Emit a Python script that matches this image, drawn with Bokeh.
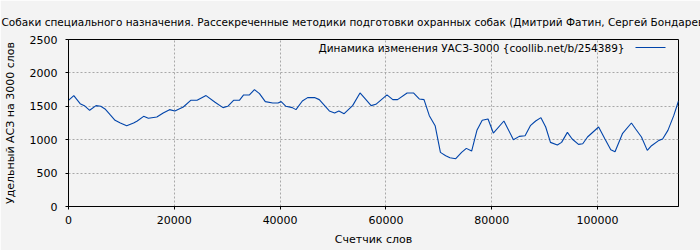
from bokeh.plotting import figure
from bokeh.models import Range1d, Label, BoxAnnotation, FixedTicker, Title
from bokeh.embed import file_html
from bokeh.resources import INLINE

title_text = "Собаки специального назначения. Рассекреченные методики подготовки охранных собак (Дмитрий Фатин, Сергей Бондарев)"
series_name = "Динамика изменения УАСЗ-3000 {coollib.net/b/254389}"
x_label = "Счетчик слов"
y_label = "Удельный АСЗ на 3000 слов"

words = [0, 1000, 2200, 3000, 4000, 5200, 6100, 6900, 7900, 8800, 9800, 11000, 12300, 13000,
         14200, 15100, 16700, 17900, 19100, 20100, 21700, 23100, 24300, 26000, 27700, 29200,
         30100, 31200, 32300, 33100, 34200, 35150, 36100, 37200, 38600, 39600, 40200, 41100,
         42300, 43000, 44200, 45200, 46500, 47400, 49300, 50300, 51100, 52100, 53700, 55100,
         56100, 57200, 58100, 60200, 61300, 62200, 64000, 65200, 66300, 67200, 68200, 69300,
         70300, 71300, 72100, 73200, 74300, 75200, 76200, 77200, 78200, 79300, 80300, 82300,
         84100, 85200, 86300, 87300, 88300, 89300, 90200, 91100, 92400, 93200, 94300, 95200,
         96400, 97200, 98100, 100200, 101400, 102500, 103300, 104700, 106400, 107200, 108300,
         109400, 110200, 111600, 112300, 113300, 114400, 115300]
uasz = [1590, 1660, 1540, 1510, 1440, 1510, 1500, 1460, 1370, 1290, 1250, 1210, 1250, 1280,
        1350, 1320, 1340, 1400, 1450, 1430, 1490, 1590, 1590, 1660, 1560, 1480,
        1500, 1590, 1590, 1670, 1670, 1750, 1690, 1570, 1550, 1550, 1570, 1500,
        1480, 1450, 1580, 1630, 1630, 1600, 1430, 1400, 1430, 1390, 1510, 1700,
        1610, 1510, 1530, 1670, 1600, 1600, 1700, 1700, 1610, 1600, 1360, 1210,
        810, 760, 730, 715, 810, 870, 830, 1140, 1290, 1310, 1100, 1280,
        1000, 1050, 1060, 1210, 1280, 1330, 1190, 960, 920, 960, 1110, 1010,
        930, 940, 1040, 1190, 1010, 850, 820, 1090, 1250, 1160, 1040,
        840, 910, 990, 1010, 1140, 1360, 1580]

x_ticks = [0, 20000, 40000, 60000, 80000, 100000]
y_ticks = [0, 500, 1000, 1500, 2000, 2500]

FONT = "DejaVu Sans"
BG = "#f3f3f3"
LINE = "#0044aa"

p = figure(width=700, height=250, output_backend="svg", toolbar_location=None,
           x_range=Range1d(0, 115300), y_range=Range1d(0, 2500),
           min_border_left=67, min_border_right=22, min_border_top=39, min_border_bottom=44,
           background_fill_color=BG, border_fill_color=BG)

p.title = Title(text=title_text, align="left", offset=-67, standoff=23,
                text_font=FONT, text_font_size="10.5px", text_font_style="normal",
                text_color="black")

p.line(words, uasz, line_color=LINE, line_width=1.1)

p.outline_line_color = "black"
p.outline_line_width = 1
p.outline_line_alpha = 1

for ax in (p.xaxis[0], p.yaxis[0]):
    ax.axis_line_color = "black"
    ax.major_tick_line_color = "black"
    ax.major_tick_out = 3
    ax.major_tick_in = 0
    ax.minor_tick_line_color = None
    ax.major_label_text_font = FONT
    ax.major_label_text_font_size = "11px"
    ax.major_label_text_color = "black"
    ax.axis_label_text_font = FONT
    ax.axis_label_text_font_size = "11px"
    ax.axis_label_text_font_style = "normal"
    ax.axis_label_text_color = "black"

p.xaxis.ticker = FixedTicker(ticks=x_ticks)
p.yaxis.ticker = FixedTicker(ticks=y_ticks)
p.xaxis.formatter.use_scientific = False
p.xaxis.axis_label = x_label
p.yaxis.axis_label = y_label
p.xaxis.major_label_standoff = 6
p.yaxis.major_label_standoff = 8
p.xaxis.axis_label_standoff = 6
p.yaxis.axis_label_standoff = 10

for g in (p.xgrid[0], p.ygrid[0]):
    g.grid_line_color = "#a8a8a8"
    g.grid_line_dash = "2 2"
    g.grid_line_width = 1

# legend (text, then sample line to its right)
p.add_layout(Label(x=556, y=159, x_units="screen", y_units="screen", text=series_name,
                   text_font=FONT, text_font_size="10.5px", text_baseline="middle",
                   text_align="right", text_color="black"))
p.add_layout(BoxAnnotation(left=567, right=597, bottom=158.5, top=159.5,
                           left_units="screen", right_units="screen",
                           bottom_units="screen", top_units="screen",
                           fill_color=LINE, fill_alpha=1, line_color=None))

open("out.html", "w").write(file_html(p, INLINE))
